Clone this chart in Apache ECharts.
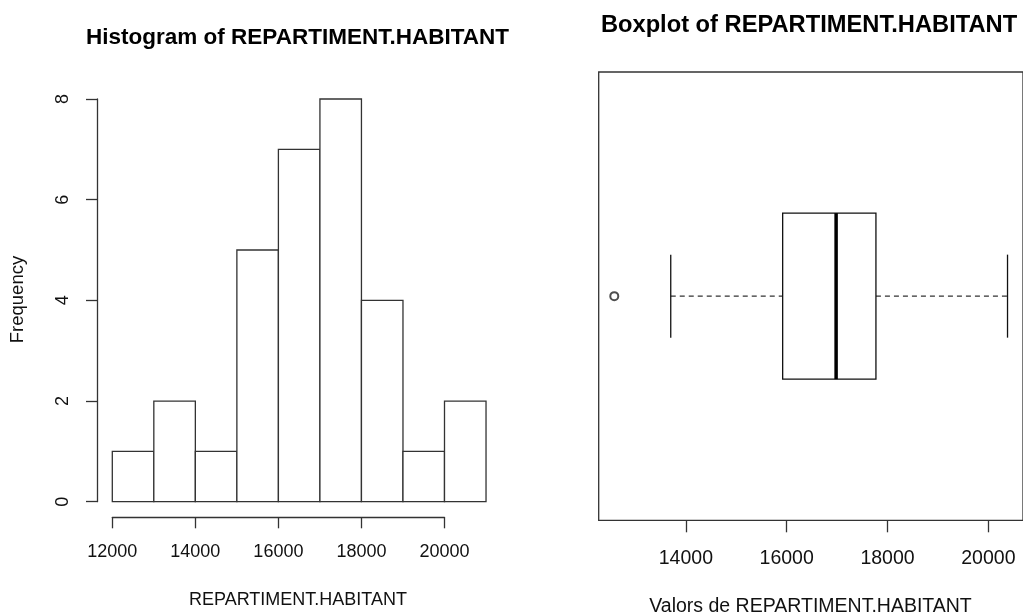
<!DOCTYPE html>
<html>
<head>
<meta charset="utf-8">
<script src="https://cdn.jsdelivr.net/npm/echarts@6/dist/echarts.min.js"></script>
<style>
html,body{margin:0;padding:0;background:#fff;}
#chart{width:1023px;height:615px;}
</style>
</head>
<body>
<div id="chart"></div>
<script>
// ---- data ----
const binEdges = [12000, 13000, 14000, 15000, 16000, 17000, 18000, 19000, 20000, 21000];
const frequencies = [1, 2, 1, 5, 7, 8, 4, 1, 2];
const histXTicks = [12000, 14000, 16000, 18000, 20000];
const histYTicks = [0, 2, 4, 6, 8];
// boxplot stats: lower whisker, Q1, median, Q3, upper whisker
const boxStats = [13700, 15920, 16980, 17770, 20380];
const outliers = [12580];
const boxXTicks = [14000, 16000, 18000, 20000];

const FONT = "'Liberation Sans', Arial, sans-serif";
const LINE = '#333';

const histData = frequencies.map((f, i) => [binEdges[i], binEdges[i + 1], f]);
const boxMin = 12271, boxMax = 20687;
const plain = v => String(v);

const chart = echarts.init(document.getElementById('chart'), null, {renderer: 'canvas'});

const option = {
  backgroundColor: '#fff',
  animation: false,
  grid: [
    {left: 112.3, top: 99, width: 332.2, height: 402.7, containLabel: false},
    {left: 598.7, top: 72, width: 424.4, height: 448.3, containLabel: false,
     show: true, borderColor: LINE, borderWidth: 1.3, backgroundColor: 'transparent'}
  ],
  xAxis: [
    {
      gridIndex: 0, type: 'value', min: histXTicks[0], max: histXTicks[histXTicks.length - 1], interval: 2000,
      offset: 15.6,
      axisLine: {show: true, onZero: false, lineStyle: {color: LINE, width: 1.3}},
      axisTick: {show: true, length: 11, lineStyle: {color: LINE, width: 1.3}},
      axisLabel: {show: true, margin: 26, fontSize: 18, fontFamily: FONT, color: '#111', formatter: plain},
      splitLine: {show: false}
    },
    {
      gridIndex: 1, type: 'value', min: boxMin, max: boxMax,
      axisLine: {show: false},
      axisTick: {show: true, length: 12, customValues: boxXTicks, lineStyle: {color: LINE, width: 1.3}},
      axisLabel: {show: true, margin: 28, fontSize: 19.5, fontFamily: FONT, color: '#111', customValues: boxXTicks, formatter: plain},
      splitLine: {show: false}
    }
  ],
  yAxis: [
    {
      gridIndex: 0, type: 'value', min: histYTicks[0], max: histYTicks[histYTicks.length - 1], interval: 2,
      offset: 15.3,
      axisLine: {show: true, onZero: false, lineStyle: {color: LINE, width: 1.3}},
      axisTick: {show: true, length: 11, lineStyle: {color: LINE, width: 1.3}},
      axisLabel: {show: true, rotate: 90, margin: 25, fontSize: 18, fontFamily: FONT, color: '#111', formatter: plain},
      splitLine: {show: false}
    },
    {
      gridIndex: 1, type: 'value', min: 0.46, max: 1.54, show: false,
      splitLine: {show: false}
    }
  ],
  series: [
    {
      type: 'custom', xAxisIndex: 0, yAxisIndex: 0, clip: false,
      data: histData,
      encode: {x: [0, 1], y: 2},
      renderItem: function (params, api) {
        const p0 = api.coord([api.value(0), api.value(2)]);
        const p1 = api.coord([api.value(1), 0]);
        return {
          type: 'rect',
          shape: {x: p0[0], y: p0[1], width: p1[0] - p0[0], height: p1[1] - p0[1]},
          style: {fill: '#fff', stroke: LINE, lineWidth: 1.3}
        };
      }
    },
    {
      type: 'custom', xAxisIndex: 1, yAxisIndex: 1, clip: false,
      data: [boxStats],
      encode: {x: [0, 1, 2, 3, 4]},
      renderItem: function (params, api) {
        const lo = api.value(0), q1 = api.value(1), med = api.value(2), q3 = api.value(3), hi = api.value(4);
        const yc = 1, half = 0.2, cap = 0.1;
        const c = (x, y) => api.coord([x, y]);
        const tl = c(q1, yc + half), br = c(q3, yc - half);
        const mt = c(med, yc + half), mb = c(med, yc - half);
        const wl = c(lo, yc), wq1 = c(q1, yc), wq3 = c(q3, yc), wh = c(hi, yc);
        const ct1 = c(lo, yc + cap), cb1 = c(lo, yc - cap);
        const ct2 = c(hi, yc + cap), cb2 = c(hi, yc - cap);
        const thin = {stroke: '#111', lineWidth: 1.3};
        const dash = {stroke: '#333', lineWidth: 1.3, lineDash: [5, 4]};
        return {
          type: 'group',
          children: [
            {type: 'line', shape: {x1: wl[0], y1: wl[1], x2: wq1[0], y2: wq1[1]}, style: dash},
            {type: 'line', shape: {x1: wq3[0], y1: wq3[1], x2: wh[0], y2: wh[1]}, style: dash},
            {type: 'line', shape: {x1: ct1[0], y1: ct1[1], x2: cb1[0], y2: cb1[1]}, style: thin},
            {type: 'line', shape: {x1: ct2[0], y1: ct2[1], x2: cb2[0], y2: cb2[1]}, style: thin},
            {type: 'rect', shape: {x: tl[0], y: tl[1], width: br[0] - tl[0], height: br[1] - tl[1]},
             style: {fill: '#fff', stroke: '#111', lineWidth: 1.3}},
            {type: 'line', shape: {x1: mt[0], y1: mt[1], x2: mb[0], y2: mb[1]}, style: {stroke: '#000', lineWidth: 3.5}}
          ]
        };
      }
    },
    {
      type: 'scatter', xAxisIndex: 1, yAxisIndex: 1, clip: false,
      data: outliers.map(v => [v, 1]),
      symbol: 'emptyCircle', symbolSize: 8,
      itemStyle: {color: '#222', borderColor: '#222', borderWidth: 0.9},
      z: 5
    }
  ],
  graphic: [
    {type: 'text', x: 297.5, y: 38, style: {text: 'Histogram of REPARTIMENT.HABITANT', font: "bold 22.5px " + FONT, fill: '#000', textAlign: 'center', textVerticalAlign: 'middle'}},
    {type: 'text', x: 809, y: 25, style: {text: 'Boxplot of REPARTIMENT.HABITANT', font: "bold 23.7px " + FONT, fill: '#000', textAlign: 'center', textVerticalAlign: 'middle'}},
    {type: 'text', x: 298, y: 600, style: {text: 'REPARTIMENT.HABITANT', font: "18px " + FONT, fill: '#111', textAlign: 'center', textVerticalAlign: 'middle'}},
    {type: 'text', x: 810.5, y: 606.7, style: {text: 'Valors de REPARTIMENT.HABITANT', font: "19.5px " + FONT, fill: '#111', textAlign: 'center', textVerticalAlign: 'middle'}},
    {type: 'text', x: 18, y: 299.5, rotation: Math.PI / 2, style: {text: 'Frequency', font: "18.5px " + FONT, fill: '#111', textAlign: 'center', textVerticalAlign: 'middle'}}
  ]
};
chart.setOption(option);
</script>
</body>
</html>
